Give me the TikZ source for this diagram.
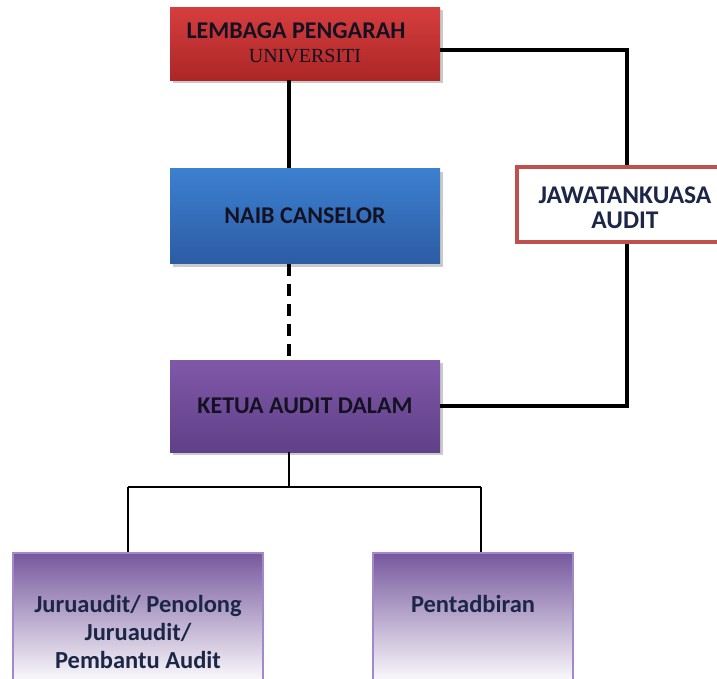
\documentclass[tikz,border=0pt]{standalone}
\usepackage{fontspec}
\setmainfont{Carlito}
\newfontfamily\serifuni{Liberation Serif}
\usetikzlibrary{shadows}
\definecolor{redtop}{RGB}{214,62,62}
\definecolor{redbot}{RGB}{172,38,38}
\definecolor{bluetop}{RGB}{60,128,208}
\definecolor{bluebot}{RGB}{44,92,164}
\definecolor{purtop}{RGB}{128,88,168}
\definecolor{purbot}{RGB}{96,64,136}
\definecolor{lpurtop}{RGB}{118,88,158}
\definecolor{lpurline}{RGB}{164,136,204}
\definecolor{audred}{RGB}{192,80,77}
\definecolor{txtdark}{RGB}{20,18,34}
\definecolor{txtnavy}{RGB}{28,38,70}
\tikzset{
  mainbox/.style={rectangle, inner sep=0pt, draw=none,
    drop shadow={shadow xshift=3pt, shadow yshift=-3pt, fill=black!35, opacity=0.6},
    text=txtdark, font=\fontsize{24}{28}\selectfont\bfseries, align=center},
  lowbox/.style={rectangle, inner sep=0pt, draw=lpurline, line width=1.2pt,
    top color=lpurtop, bottom color=white, shading angle=0},
  lowtext/.style={text=txtnavy, font=\fontsize{24.5}{28}\selectfont\bfseries, align=center},
  thickline/.style={line width=3.2pt, black},
  thinline/.style={line width=1.4pt, black},
}
\begin{document}
\begin{tikzpicture}[x=1pt,y=-1pt]
\useasboundingbox (0,0) rectangle (717,678);
\clip (0,0) rectangle (717,678);
% boxes
\node[mainbox, minimum width=270pt, minimum height=73pt, top color=redtop, bottom color=redbot] (lpu) at (305,43.5) {};
\node (lput1) at (296,31) {\fontsize{24}{28}\selectfont\bfseries\color{txtdark}LEMBAGA PENGARAH};
\node (lput2) at (305,56) {\serifuni\fontsize{20}{24}\selectfont\color{txtdark}UNIVERSITI};
\node[mainbox, minimum width=270pt, minimum height=95pt, top color=bluetop, bottom color=bluebot] (nc) at (305,216) {NAIB CANSELOR};
\node[rectangle, draw=audred, line width=4pt, fill=white, minimum width=218pt, minimum height=75pt] (jaw) at (626,204.5) {};
\node[text=txtnavy, font=\fontsize{25.5}{25}\selectfont\bfseries, align=center] (jawt) at (625,208) {JAWATANKUASA\\AUDIT};
\node[mainbox, minimum width=270pt, minimum height=92pt, top color=purtop, bottom color=purbot] (kad) at (305,406) {KETUA AUDIT DALAM};
\node[lowbox, minimum width=250pt, minimum height=132pt] (jl) at (138,619) {};
\node[lowtext] (jlt) at (138,632) {Juruaudit/ Penolong\\Juruaudit/\\Pembantu Audit};
\node[lowbox, minimum width=200pt, minimum height=132pt] (pb) at (473,619) {};
\node[lowtext] (pbt) at (473,604) {Pentadbiran};
% coordinates
\coordinate (spine) at (289,0);
\coordinate (rtop) at (627,50);
\coordinate (br) at (289,487);
\coordinate (bl) at (128,487);
\coordinate (brr) at (481,487);
% connectors
\draw[thickline] (lpu.south -| spine) -- (nc.north -| spine);
\draw[thickline, dash pattern=on 12pt off 8pt] (nc.south -| spine) -- (kad.north -| spine);
\draw[thickline] (lpu.east |- rtop) -- (rtop) -- (jaw.north -| rtop);
\draw[thickline] (jaw.south -| rtop) |- (kad.east);
\draw[thinline] (kad.south -| spine) -- (br);
\draw[thinline] (bl) -- (brr);
\draw[thinline] (bl) -- (jl.north -| bl);
\draw[thinline] (brr) -- (pb.north -| brr);
\end{tikzpicture}
\end{document}
